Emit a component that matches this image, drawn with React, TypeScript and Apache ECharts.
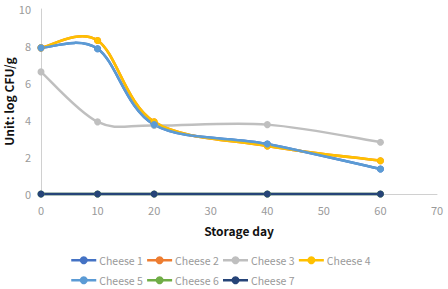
import React, { useEffect, useRef } from "react";
import * as echarts from "echarts";

const days = [0, 10, 20, 40, 60];
const xTicks = [0, 10, 20, 30, 40, 50, 60, 70];
const seriesNames = ["Cheese 1", "Cheese 2", "Cheese 3", "Cheese 4", "Cheese 5", "Cheese 6", "Cheese 7"];
const cheese1 = [7.9, 7.85, 3.75, 2.7, 1.35];
const cheese2 = [7.9, 8.3, 3.9, 2.6, 1.8];
const cheese3 = [6.6, 3.9, 3.7, 3.75, 2.8];
const cheese4 = [7.9, 8.3, 3.9, 2.6, 1.8];
const cheese5 = [7.9, 7.85, 3.75, 2.7, 1.35];
const cheese6 = [0, 0, 0, 0, 0];
const cheese7 = [0, 0, 0, 0, 0];
const colors = ["#4472C4", "#ED7D31", "#BFBFBF", "#FFC000", "#5B9BD5", "#70AD47", "#264478"];

const allValues = [cheese1, cheese2, cheese3, cheese4, cheese5, cheese6, cheese7];

// Catmull-Rom style smoothed curve through the projected points
function smoothCurve(values: number[], color: string) {
  return (_params: any, api: any) => {
    const pts = days.map((d, j) => api.coord([d, values[j]]));
    const children: any[] = [];
    for (let i = 0; i < pts.length - 1; i++) {
      const p0 = pts[Math.max(0, i - 1)];
      const p1 = pts[i];
      const p2 = pts[i + 1];
      const p3 = pts[Math.min(pts.length - 1, i + 2)];
      children.push({
        type: "bezierCurve",
        shape: {
          x1: p1[0],
          y1: p1[1],
          cpx1: p1[0] + (p2[0] - p0[0]) / 6,
          cpy1: p1[1] + (p2[1] - p0[1]) / 6,
          cpx2: p2[0] - (p3[0] - p1[0]) / 6,
          cpy2: p2[1] - (p3[1] - p1[1]) / 6,
          x2: p2[0],
          y2: p2[1],
        },
        style: { stroke: color, lineWidth: 2.5, fill: null, lineCap: "round" },
      });
    }
    return { type: "group", children };
  };
}

export default function App() {
  const ref = useRef<HTMLDivElement>(null);
  useEffect(() => {
    if (!ref.current) return;
    const chart = echarts.init(ref.current, undefined, { renderer: "svg" });
    const font = "'Noto Sans CJK KR', 'Open Sans', sans-serif";
    const legendBase = {
      itemWidth: 25,
      itemHeight: 10,
      itemGap: 3,
      padding: 0,
      lineStyle: { opacity: 1, width: 2.5 },
      textStyle: { color: "#9a9a9a", fontSize: 10.5, fontFamily: font, padding: [0, 0, 0, -2] },
      orient: "horizontal" as const,
    };
    const series: any[] = [];
    seriesNames.forEach((name, i) => {
      series.push({
        name: name + " curve",
        type: "custom",
        silent: true,
        data: [[0, 0]],
        renderItem: smoothCurve(allValues[i], colors[i]),
      });
      series.push({
        name,
        type: "line",
        symbol: "circle",
        symbolSize: 7,
        lineStyle: { width: 2.5, color: colors[i], opacity: 0 },
        itemStyle: { color: colors[i] },
        data: days.map((d, j) => [d, allValues[i][j]]),
      });
    });
    chart.setOption({
      animation: false,
      color: colors,
      grid: { left: 41, right: 11, top: 9, bottom: 95, containLabel: false, outerBoundsMode: "none" },
      legend: [
        { ...legendBase, left: 70, top: 255, data: seriesNames.slice(0, 4) },
        { ...legendBase, left: 70, top: 275, data: seriesNames.slice(4) },
      ],
      xAxis: {
        type: "value",
        min: 0,
        max: 70,
        interval: 10,
        name: "Storage day",
        nameLocation: "middle",
        nameGap: 30,
        nameMoveOverlap: false,
        nameTextStyle: { color: "#111", fontSize: 12, fontWeight: "bold", fontFamily: font },
        axisLine: { show: true, lineStyle: { color: "#d0d0d0", width: 1 } },
        axisTick: { show: false },
        splitLine: { show: false },
        axisLabel: {
          color: "#9a9a9a",
          fontSize: 11,
          fontFamily: font,
          margin: 10,
          formatter: (v: number) => (xTicks.includes(v) ? String(v) : ""),
        },
      },
      yAxis: {
        type: "value",
        min: 0,
        max: 10,
        interval: 2,
        name: "Unit: log CFU/g",
        nameLocation: "middle",
        nameGap: 27,
        nameMoveOverlap: false,
        nameTextStyle: { color: "#111", fontSize: 12, fontWeight: "bold", fontFamily: font },
        axisLine: { show: true, lineStyle: { color: "#d0d0d0", width: 1 } },
        axisTick: { show: false },
        splitLine: { show: false },
        axisLabel: { color: "#9a9a9a", fontSize: 11, fontFamily: font, margin: 10 },
      },
      series,
    });
    return () => chart.dispose();
  }, []);
  return <div ref={ref} style={{ width: 448, height: 289, position: "absolute", left: 0, top: 0 }} />;
}
